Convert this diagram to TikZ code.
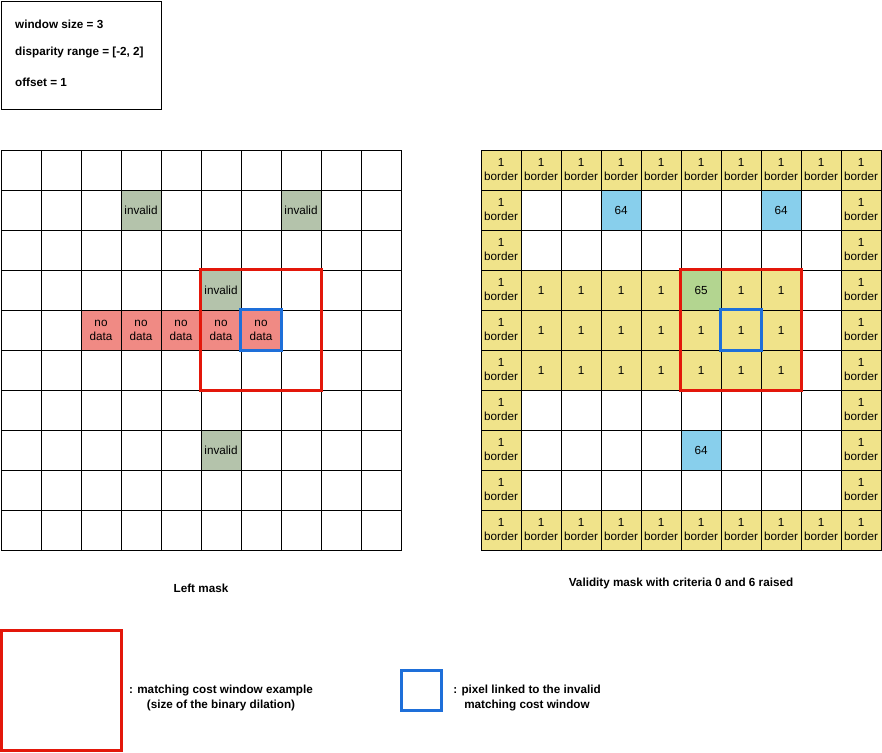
\documentclass[tikz,border=0pt]{standalone}
\usepackage{fontspec}
\setmainfont{Liberation Sans}
\usetikzlibrary{positioning}
\definecolor{invalidgray}{HTML}{B4C3AB}
\definecolor{nodatared}{HTML}{F08A84}
\definecolor{borderyellow}{HTML}{F0E38A}
\definecolor{skyblue64}{HTML}{88CFEC}
\definecolor{green65}{HTML}{B3D590}
\definecolor{winred}{HTML}{E3170A}
\definecolor{pixblue}{HTML}{1E6FD9}

\begin{document}
\begin{tikzpicture}[x=1pt,y=-1pt,
    cell/.style={draw=black, line width=0.8pt, minimum size=40pt, inner sep=0pt,
      align=center, font=\fontsize{11.7}{14}\selectfont},
    invalid/.style={fill=invalidgray},
    nodata/.style={fill=nodatared},
    bordercell/.style={fill=borderyellow},
    code64/.style={fill=skyblue64},
    code65/.style={fill=green65},
    redwin/.style={draw=winred, line width=3pt},
    bluepix/.style={draw=pixblue, line width=3pt},
    caption/.style={font=\bfseries\fontsize{11.7}{15}\selectfont, align=center}]
    \useasboundingbox (0,0) rectangle (882,752);

    % parameters
    \node[draw, line width=0.8pt, minimum width=160pt, minimum height=108pt,
      anchor=north west] (params) at (1,1) {};
    \node[caption, anchor=west, inner xsep=0pt] (wsize) at (15,24) {window size = 3};
    \node[caption, anchor=west, inner xsep=0pt] (drange) at (15,53) {disparity range = [-2, 2]};
    \node[caption, anchor=west, inner xsep=0pt] (offset) at (15,82) {offset = 1};

    % left mask
    \foreach \r in {0,...,9}{
      \foreach \c in {0,...,9}{
        \node[cell] (L-\r-\c) at ({21+40*\c},{170+40*\r}) {};
      }
    }
    \node[cell,invalid] (inv1) at (L-1-3) {invalid};
    \node[cell,invalid] (inv2) at (L-1-7) {invalid};
    \node[cell,invalid] (inv3) at (L-3-5) {invalid};
    \node[cell,invalid] (inv4) at (L-7-5) {invalid};
    \foreach \c in {2,...,6}
      \node[cell,nodata] (nd-\c) at (L-4-\c) {no\\data};
    \draw[redwin] (L-3-5.north west) rectangle (L-5-7.south east);
    \draw[bluepix] (L-4-6.north west) rectangle (L-4-6.south east);
    \node[caption] (lcap) at (201,588) {Left mask};

    % validity mask
    \foreach \r in {0,...,9}{
      \foreach \c in {0,...,9}{
        \node[cell] (R-\r-\c) at ({501+40*\c},{170+40*\r}) {};
      }
    }
    \foreach \c in {0,...,9}{
      \node[cell,bordercell] (Rt-\c) at (R-0-\c) {1\\border};
      \node[cell,bordercell] (Rb-\c) at (R-9-\c) {1\\border};
    }
    \foreach \r in {1,...,8}{
      \node[cell,bordercell] (Rl-\r) at (R-\r-0) {1\\border};
      \node[cell,bordercell] (Rr-\r) at (R-\r-9) {1\\border};
    }
    \foreach \c in {1,2,3,4,6,7}
      \node[cell,bordercell] (Rw-3-\c) at (R-3-\c) {1};
    \foreach \r in {4,5}
      \foreach \c in {1,...,7}
        \node[cell,bordercell] (Rw-\r-\c) at (R-\r-\c) {1};
    \node[cell,code64] (c64a) at (R-1-3) {64};
    \node[cell,code64] (c64b) at (R-1-7) {64};
    \node[cell,code64] (c64c) at (R-7-5) {64};
    \node[cell,code65] (c65) at (R-3-5) {65};
    \draw[redwin] (R-3-5.north west) rectangle (R-5-7.south east);
    \draw[bluepix] (R-4-6.north west) rectangle (R-4-6.south east);
    \node[caption] (rcap) at (681,583) {Validity mask with criteria 0 and 6 raised};

    % legend
    \node[redwin, minimum size=120pt, inner sep=0pt] (legwin) at (61,690) {};
    \node[caption] (legwintxt) at (221,698) {: matching cost window example\\(size of the binary dilation)};
    \node[bluepix, minimum size=40pt, inner sep=0pt] (legpix) at (421,690) {};
    \node[caption] (legpixtxt) at (527,698) {: pixel linked to the invalid\\matching cost window};
\end{tikzpicture}
\end{document}
